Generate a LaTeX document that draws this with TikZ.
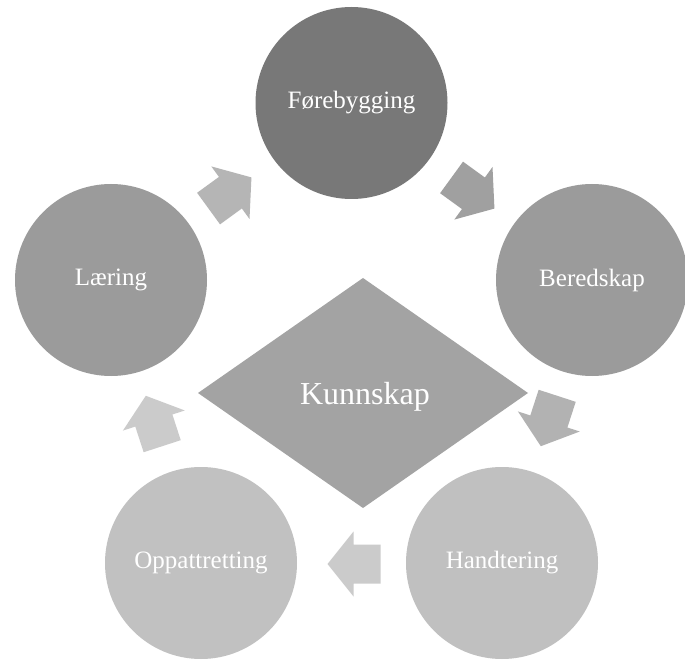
\documentclass[tikz,border=0pt]{standalone}
\usepackage{fontspec}
\setmainfont{Liberation Serif}
\definecolor{cF}{HTML}{787878}
\definecolor{cB}{HTML}{9B9B9B}
\definecolor{cL}{HTML}{9B9B9B}
\definecolor{cH}{HTML}{C0C0C0}
\definecolor{cO}{HTML}{C1C1C1}
\definecolor{cK}{HTML}{A3A3A3}
\definecolor{aOne}{HTML}{B5B5B5}
\definecolor{aTwo}{HTML}{A0A0A0}
\definecolor{aThree}{HTML}{B2B2B2}
\definecolor{aFour}{HTML}{CBCBCB}
\definecolor{aFive}{HTML}{CBCBCB}
\tikzset{
  stagecircle/.style={circle, minimum size=192pt, inner sep=0pt, text=white, font=\fontsize{25}{29}\selectfont},
  hubdiamond/.style={text=white, font=\fontsize{32}{37}\selectfont},
  blockarrow/.pic={\fill[#1] (-26.5,-19.5) -- (0.5,-19.5) -- (0.5,-32.5) -- (26.5,0) -- (0.5,32.5) -- (0.5,19.5) -- (-26.5,19.5) -- cycle;}
}
\begin{document}
\begin{tikzpicture}[x=1pt,y=1pt]
\useasboundingbox (0,0) rectangle (685,662);
\fill[white] (0,0) rectangle (685,662);
% circles
\node[stagecircle, fill=cF] (fore) at (351.5,559) {Førebygging};
\node[stagecircle, fill=cB] (bere) at (592,382) {Beredskap};
\node[stagecircle, fill=cH] (hand) at (502,99) {Handtering};
\node[stagecircle, fill=cO] (oppa) at (201,99) {Oppattretting};
\node[stagecircle, fill=cL] (laer) at (111,382) {Læring};
% diamond
\coordinate (kc) at (363,269);
\fill[cK] (363,384) -- (528,269) -- (363,154) -- (198,269) -- cycle;
\node[hubdiamond] (kunn) at (365,265) {Kunnskap};
% arrows
\pic[rotate=36] at (230,469) {blockarrow=aOne};
\pic[rotate=-36] at (473,469) {blockarrow=aTwo};
\pic[rotate=-108] at (549,241) {blockarrow=aThree};
\pic[rotate=180] at (354,98) {blockarrow=aFour};
\pic[rotate=108] at (154,241) {blockarrow=aFive};
\end{tikzpicture}
\end{document}
